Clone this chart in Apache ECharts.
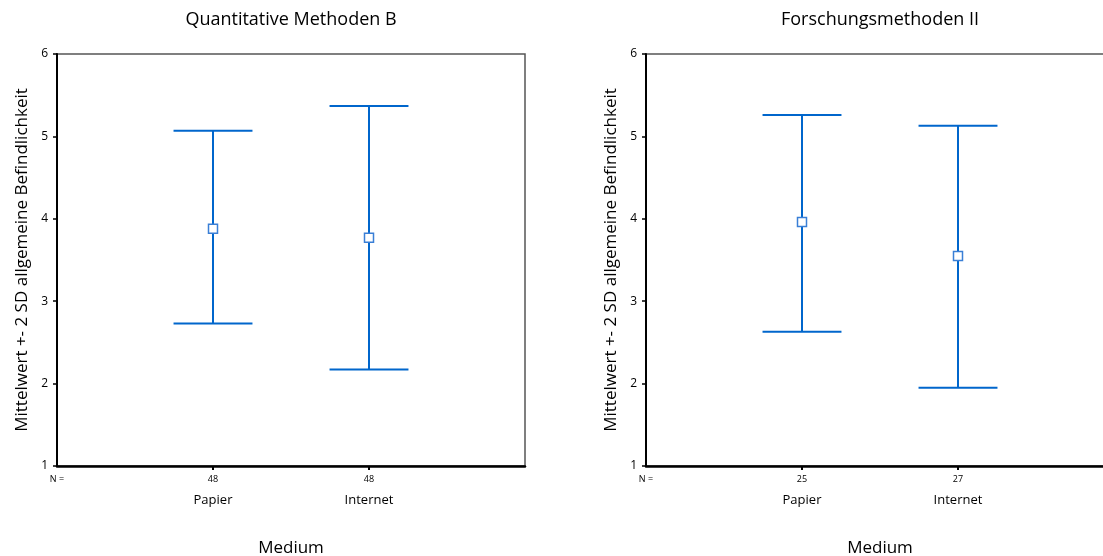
<!DOCTYPE html>
<html>
<head>
<meta charset="utf-8">
<script src="https://cdn.jsdelivr.net/npm/echarts@6/dist/echarts.min.js"></script>
<style>
  html, body { margin: 0; padding: 0; background: #fff; }
  #chart { width: 1103px; height: 556px; }
</style>
</head>
<body>
<div id="chart"></div>
<script>
// Daten
const categories = ['Papier', 'Internet'];
const titles = ['Quantitative Methoden B', 'Forschungsmethoden II'];
const nLeft = [48, 48];
const nRight = [25, 27];
const meanLeft = [3.88, 3.77];
const lowLeft = [2.73, 2.17];
const highLeft = [5.07, 5.37];
const meanRight = [3.96, 3.55];
const lowRight = [2.63, 1.95];
const highRight = [5.26, 5.13];

const FONT = 'Open Sans';
const BLUE = '#0066cc';

var myChart = echarts.init(document.getElementById('chart'));

function xAxisFor(idx, counts) {
    return {
        gridIndex: idx,
        type: 'value',
        min: 0,
        max: 3,
        interval: 1,
        name: 'Medium',
        nameLocation: 'middle',
        nameGap: 74,
        nameTextStyle: { fontFamily: FONT, fontSize: 17, color: '#000' },
        splitLine: { show: false },
        axisLine: { show: true, onZero: false, lineStyle: { color: '#000', width: 2.5 } },
        axisTick: { show: true, customValues: [1, 2], length: 4, lineStyle: { color: '#000', width: 2 } },
        axisLabel: {
            customValues: [0, 1, 2],
            margin: 7,
            fontFamily: FONT,
            color: '#000',
            formatter: (v) => {
                if (v === 0) return '{n|N =}';
                return '{n|' + counts[v - 1] + '}\n{c|' + categories[v - 1] + '}';
            },
            rich: {
                n: { fontFamily: FONT, fontSize: 9, lineHeight: 13, color: '#000' },
                c: { fontFamily: FONT, fontSize: 13, lineHeight: 28, color: '#000' }
            }
        }
    };
}

function yAxisFor(idx) {
    return {
        gridIndex: idx,
        type: 'value',
        min: 1,
        max: 6,
        interval: 1,
        name: 'Mittelwert +- 2 SD allgemeine Befindlichkeit',
        nameLocation: 'middle',
        nameGap: 26,
        nameTextStyle: { fontFamily: FONT, fontSize: 17, color: '#000' },
        splitLine: { show: false },
        axisLine: { show: true, onZero: false, lineStyle: { color: '#000', width: 2 } },
        axisTick: { show: true, length: 4, lineStyle: { color: '#000', width: 1.5 } },
        axisLabel: { margin: 9, fontFamily: FONT, fontSize: 12, color: '#000' }
    };
}

function errorSeries(idx, low, high) {
    return {
        type: 'custom',
        xAxisIndex: idx,
        yAxisIndex: idx,
        data: categories.map((c, i) => [i + 1, low[i], high[i]]),
        renderItem: (params, api) => {
            const x = api.value(0);
            const lo = api.coord([x, api.value(1)]);
            const hi = api.coord([x, api.value(2)]);
            const half = api.size([1, 0])[0] * 0.253;
            const style = { stroke: BLUE, lineWidth: 2, fill: null };
            return {
                type: 'group',
                children: [
                    { type: 'line', shape: { x1: lo[0], y1: lo[1], x2: hi[0], y2: hi[1] }, style: style },
                    { type: 'line', shape: { x1: hi[0] - half, y1: hi[1], x2: hi[0] + half, y2: hi[1] }, style: style },
                    { type: 'line', shape: { x1: lo[0] - half, y1: lo[1], x2: lo[0] + half, y2: lo[1] }, style: style }
                ]
            };
        },
        z: 2
    };
}

function meanSeries(idx, mean) {
    return {
        type: 'scatter',
        xAxisIndex: idx,
        yAxisIndex: idx,
        symbol: 'rect',
        symbolSize: 9,
        data: categories.map((c, i) => [i + 1, mean[i]]),
        itemStyle: { color: '#fff', borderColor: '#3a7fd6', borderWidth: 1.5, opacity: 1 },
        z: 5
    };
}

var option = {
    animation: false,
    backgroundColor: '#fff',
    graphic: [
        {
            type: 'text', x: 291, y: 20,
            style: { text: titles[0], fontFamily: FONT, fontSize: 18, fill: '#000', align: 'center', verticalAlign: 'middle' }
        },
        {
            type: 'text', x: 880, y: 20,
            style: { text: titles[1], fontFamily: FONT, fontSize: 18, fill: '#000', align: 'center', verticalAlign: 'middle' }
        }
    ],
    grid: [
        { left: 57, top: 54, width: 468, height: 412, outerBoundsMode: 'none', containLabel: false, show: true, borderColor: '#555', borderWidth: 1.5, backgroundColor: 'transparent' },
        { left: 646, top: 54, width: 468, height: 412, outerBoundsMode: 'none', containLabel: false, show: true, borderColor: '#555', borderWidth: 1.5, backgroundColor: 'transparent' }
    ],
    xAxis: [xAxisFor(0, nLeft), xAxisFor(1, nRight)],
    yAxis: [yAxisFor(0), yAxisFor(1)],
    series: [
        errorSeries(0, lowLeft, highLeft),
        meanSeries(0, meanLeft),
        errorSeries(1, lowRight, highRight),
        meanSeries(1, meanRight)
    ]
};

option && myChart.setOption(option);
</script>
</body>
</html>
